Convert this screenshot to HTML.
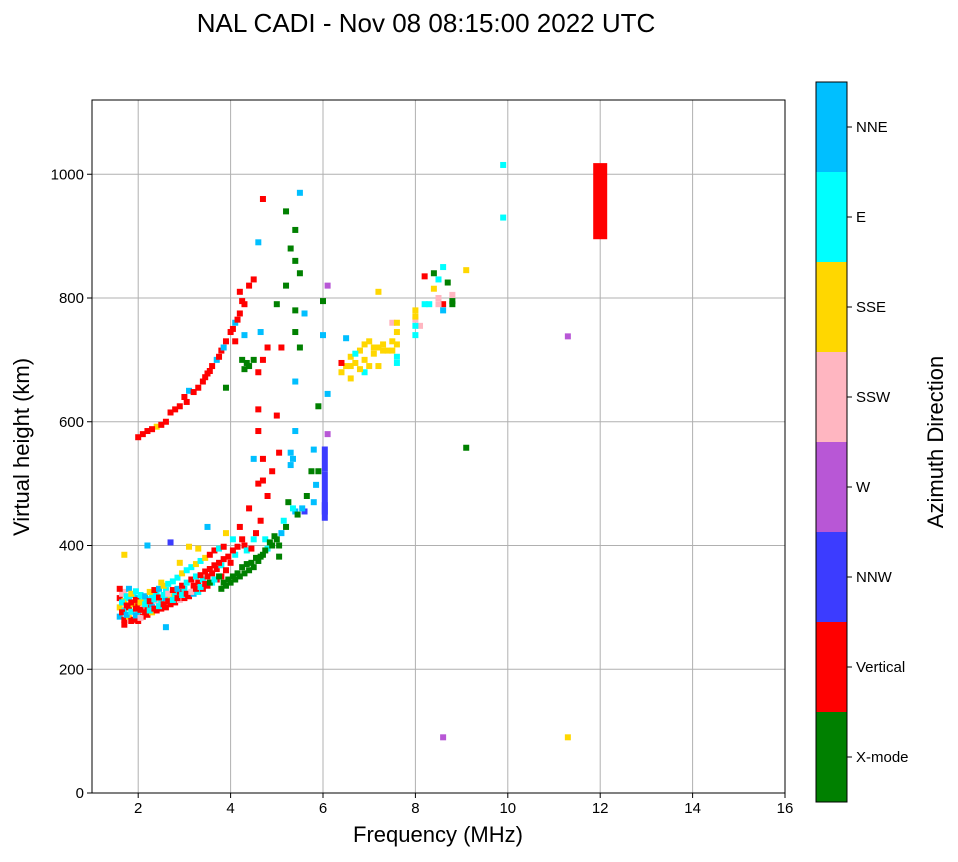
<!DOCTYPE html>
<html><head><meta charset="utf-8"><style>
body{margin:0;background:#fff;width:958px;height:857px;overflow:hidden;font-family:"Liberation Sans",sans-serif}
</style></head><body>
<svg id="chart" width="958" height="857" xmlns="http://www.w3.org/2000/svg" font-family="Liberation Sans, sans-serif">
<text x="426" y="32" font-size="26" text-anchor="middle">NAL CADI - Nov 08 08:15:00 2022 UTC</text>
<g id="grid"></g>
<g id="marks"></g>
<rect x="92" y="100" width="693" height="693" fill="none" stroke="#000" stroke-width="1"/>
<g id="axes"></g>
<text x="438" y="842" font-size="22" text-anchor="middle">Frequency (MHz)</text>
<text transform="translate(29,447) rotate(-90)" font-size="22" text-anchor="middle">Virtual height (km)</text>
<g id="colorbar"></g>
<text transform="translate(943,442) rotate(-90)" font-size="22" text-anchor="middle">Azimuth Direction</text>
</svg>
<script>
const xTicks=[2,4,6,8,10,12,14,16];
const yTicks=[0,200,400,600,800,1000];
const dirNames=["X-mode","Vertical","NNW","W","SSW","SSE","E","NNE"];
const dirColors=["#008000","#ff0000","#3c3cff","#b857d6","#ffb6c1","#ffd700","#00ffff","#00bfff"];
// [freq MHz, height km, direction index]
const lowCluster=[[1.6,285,7],[1.6,300,5],[1.6,315,1],[1.7,280,1],[1.7,295,6],[1.7,310,5],[1.7,325,4],[1.8,285,5],[1.8,300,1],[1.8,315,6],[1.8,330,7],[1.9,280,1],[1.9,292,4],[1.9,305,5],[1.9,320,6],[2.0,278,1],[2.0,290,6],[2.0,302,1],[2.0,315,7],[2.1,285,1],[2.1,298,4],[2.1,310,6],[2.2,288,1],[2.2,300,1],[2.2,313,6],[2.3,292,5],[2.3,305,7],[2.3,318,6],[2.4,295,1],[2.4,310,4],[2.4,322,6],[2.5,298,1],[2.5,312,6],[2.6,300,1],[2.6,315,7],[2.6,328,6],[2.7,305,1],[2.7,318,5],[2.8,308,1],[2.8,322,6],[2.9,312,4],[2.9,325,1],[3.0,315,1],[3.0,330,6],[3.1,318,1],[3.2,322,7],[3.2,335,1],[3.3,325,6],[3.3,340,1],[3.4,330,1],[3.4,345,6],[3.5,335,1],[3.5,350,1],[3.6,340,6],[3.6,355,1],[3.7,345,1],[3.7,362,1],[3.8,330,0],[3.8,350,1],[3.8,368,6],[3.9,335,0],[3.9,360,1],[4.0,340,0],[4.0,372,1],[4.1,345,0],[4.1,385,6],[4.2,350,0],[4.3,355,0],[4.3,400,1],[4.4,360,0],[4.5,365,0],[4.5,410,6],[4.6,375,0],[4.7,385,0],[4.8,395,6],[4.9,400,0],[5.0,410,0],[5.1,420,7],[5.2,430,0],[5.4,455,7],[5.6,455,2],[5.8,470,7],[1.7,385,5],[2.2,400,7],[2.7,405,2],[3.1,398,5],[3.5,430,7],[2.6,268,7]];
const lowFill=[[1.65,292,1],[1.65,308,6],[1.65,322,4],[1.75,288,7],[1.75,303,1],[1.75,318,6],[1.85,278,1],[1.85,293,6],[1.85,308,1],[1.85,322,5],[1.95,287,7],[1.95,298,1],[1.95,312,1],[1.95,326,6],[2.05,283,4],[2.05,296,1],[2.05,308,5],[2.05,320,6],[2.15,292,1],[2.15,305,6],[2.15,318,7],[2.25,295,6],[2.25,310,1],[2.25,325,5],[2.35,298,1],[2.35,313,6],[2.35,328,1],[2.45,302,6],[2.45,316,1],[2.45,330,7],[2.55,305,1],[2.55,320,6],[2.55,335,5],[2.65,310,1],[2.65,322,4],[2.65,338,6],[2.75,312,6],[2.75,328,1],[2.75,342,6],[2.85,315,1],[2.85,330,7],[2.85,348,6],[2.95,320,6],[2.95,335,1],[2.95,355,5],[3.05,322,1],[3.05,340,6],[3.05,360,6],[3.15,325,4],[3.15,345,1],[3.15,365,6],[3.25,330,1],[3.25,350,6],[3.25,370,5],[3.35,333,6],[3.35,352,1],[3.35,375,6],[3.45,338,1],[3.45,358,1],[3.45,380,5],[3.55,340,0],[3.55,362,1],[3.55,385,1],[3.65,345,6],[3.65,368,1],[3.65,392,1],[3.75,350,0],[3.75,372,1],[3.75,395,6],[3.85,340,0],[3.85,378,1],[3.85,398,1],[3.95,345,0],[3.95,382,1],[4.05,350,0],[4.05,392,1],[4.05,410,6],[4.15,355,0],[4.15,398,1],[4.25,365,0],[4.25,410,1],[4.35,370,0],[4.35,392,6],[4.45,372,0],[4.45,395,1],[4.55,380,0],[4.55,420,1],[4.65,382,0],[4.65,440,1],[4.75,392,0],[4.75,410,6],[4.85,405,0],[4.95,415,0],[5.05,382,0],[5.05,400,0],[5.15,440,6],[5.25,470,0],[5.35,460,6],[5.45,450,0],[5.55,460,7],[5.65,480,0],[5.75,520,0],[5.85,498,7],[4.2,430,1],[4.4,460,1],[4.8,480,1],[4.9,520,1],[4.6,500,1],[4.5,540,7],[5.05,550,1],[5.35,540,7],[1.6,330,1],[1.7,272,1],[2.5,340,5],[2.9,372,5],[3.3,395,5],[3.9,420,5]];
const upperTrace=[[2.0,575,1],[2.2,585,1],[2.4,592,5],[2.6,600,1],[2.7,615,1],[2.9,625,1],[3.0,640,1],[3.1,650,7],[3.3,655,1],[3.4,665,1],[3.5,678,1],[3.6,690,1],[3.7,700,7],[3.8,715,1],[3.9,730,1],[4.0,745,1],[4.1,760,7],[4.2,775,1],[4.3,790,1],[4.4,690,0],[4.5,700,0],[3.9,655,0],[4.2,810,1],[4.7,960,1],[4.8,720,1],[4.6,680,1],[4.6,620,1],[4.6,585,1],[4.7,540,1],[4.7,505,1],[5.2,940,0],[5.3,880,0],[5.4,860,0],[5.4,910,0],[5.5,840,0],[5.5,970,7],[5.2,820,0],[5.0,790,0],[5.4,780,0],[5.6,775,7],[5.4,745,0],[5.5,720,0],[5.4,665,7],[5.9,625,0],[5.4,585,7],[5.3,550,7],[5.3,530,7],[5.8,555,7],[5.9,520,0],[5.1,720,1],[5.0,610,1],[6.0,740,7],[6.0,795,0],[6.1,645,7],[6.1,580,3],[6.1,820,3],[2.1,580,1],[2.3,588,1],[2.5,595,1],[2.8,620,1],[3.05,632,1],[3.2,648,1],[3.45,672,1],[3.55,682,1],[3.75,705,1],[3.85,720,7],[4.05,750,1],[4.15,765,1],[4.25,795,1],[4.35,695,0],[4.3,740,7],[4.3,685,0],[4.1,730,1],[4.25,700,0],[4.4,820,1],[4.65,745,7],[4.5,830,1],[4.6,890,7],[4.7,700,1]];
const sseCluster=[[6.4,680,5],[6.5,690,5],[6.6,705,5],[6.7,695,5],[6.8,715,5],[6.9,700,5],[7.0,690,5],[7.1,710,5],[7.2,720,5],[7.3,715,5],[7.4,715,5],[7.6,745,5],[7.6,725,5],[7.6,705,6],[7.2,690,5],[6.9,680,6],[6.5,735,7],[6.6,670,5],[7.5,760,4],[7.2,810,5],[8.0,765,4],[8.0,780,5],[8.0,740,6],[8.1,755,4],[8.2,835,1],[8.2,790,6],[8.4,815,5],[8.5,800,4],[8.5,830,6],[8.6,850,6],[8.6,790,1],[8.6,780,7],[8.7,825,0],[8.8,795,0],[8.8,805,4],[9.1,845,5],[8.4,840,0],[9.9,1015,6],[9.9,930,6],[11.3,738,3],[8.6,90,3],[11.3,90,5],[9.1,558,0],[7.1,720,5],[6.9,725,5],[6.8,685,5],[7.0,730,5],[6.7,710,6],[6.6,690,5],[7.3,725,5],[7.5,730,5],[7.5,715,5],[7.6,760,5],[7.6,695,6],[6.4,695,1],[8.0,770,5],[8.3,790,6],[8.5,790,4],[8.8,790,0],[8.0,755,6]];
const bars=[[6.05,450,520,2],[6.05,520,560,2],[12.0,895,1018,1],[6.05,440,470,2]];
const X0=92, X1=785, Y0=793, Y1=100;
const xs=f=>X0+(f-1)*(X1-X0)/15;
const ys=h=>Y0-h*(Y0-Y1)/1120;
const NS="http://www.w3.org/2000/svg";
function mk(p,t,a){const e=document.createElementNS(NS,t);for(const k in a)e.setAttribute(k,a[k]);p.appendChild(e);return e;}
const grid=document.getElementById('grid'),axes=document.getElementById('axes'),marks=document.getElementById('marks');
xTicks.forEach(v=>{
 if(v<16){const l=mk(grid,'line',{x1:xs(v),x2:xs(v),y1:Y1,y2:Y0,stroke:'#b0b0b0','stroke-width':1});
 
 }
 mk(axes,'line',{x1:xs(v),x2:xs(v),y1:Y0,y2:Y0+5,stroke:'#000'});
 const t=mk(axes,'text',{x:xs(v),y:Y0+20,'font-size':15,'text-anchor':'middle'});t.textContent=v;
 
 
});
yTicks.forEach(v=>{
 if(v>0){const l=mk(grid,'line',{x1:X0,x2:X1,y1:ys(v),y2:ys(v),stroke:'#b0b0b0','stroke-width':1});
 
 }
 mk(axes,'line',{x1:X0-5,x2:X0,y1:ys(v),y2:ys(v),stroke:'#000'});
 const t=mk(axes,'text',{x:X0-8,y:ys(v)+5,'font-size':15,'text-anchor':'end'});t.textContent=v;
 
 
});
[lowCluster,lowFill,upperTrace,sseCluster].forEach(arr=>arr.forEach(([f,h,c])=>{
 const r=mk(marks,'rect',{x:xs(f)-3,y:ys(h)-3,width:6,height:6,fill:dirColors[c]});
 
 
}));
bars.forEach(([f,lo,hi,c])=>{
 const r=mk(marks,'rect',{x:xs(f)-3.5,y:ys(hi),width:c==1?14:6,height:ys(lo)-ys(hi),fill:dirColors[c]});
 if(c==1)r.setAttribute('x',xs(f)-7);
 
 
});
const cb=document.getElementById('colorbar');
const segH=90;
dirNames.forEach((n,i)=>{
 const y=802-(i+1)*segH;
 const r=mk(cb,'rect',{x:816,y:y,width:31,height:segH,fill:dirColors[i]});
 
 
 mk(cb,'line',{x1:847,x2:852,y1:y+segH/2,y2:y+segH/2,stroke:'#000'});
 const t=mk(cb,'text',{x:856,y:y+segH/2+5,'font-size':15});t.textContent=n;
 
 
});
mk(cb,'rect',{x:816,y:82,width:31,height:720,fill:'none',stroke:'#000','stroke-width':1});
</script>
</body></html>
